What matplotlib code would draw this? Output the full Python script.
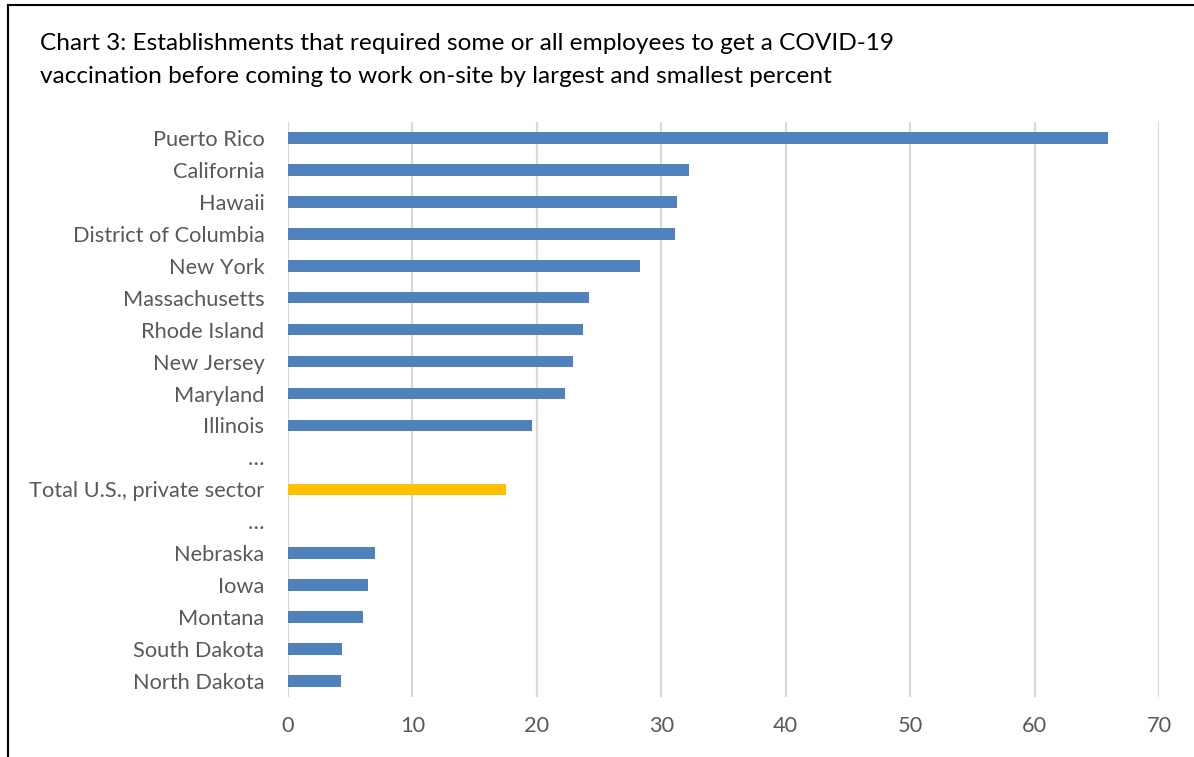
import matplotlib.pyplot as plt
from matplotlib.lines import Line2D

plt.rcParams['font.family'] = ['Lato', 'DejaVu Sans']

# valori in percentuale, dall'alto verso il basso
states = ["Puerto Rico", "California", "Hawaii", "District of Columbia", "New York",
          "Massachusetts", "Rhode Island", "New Jersey", "Maryland", "Illinois",
          "…", "Total U.S., private sector", "…",
          "Nebraska", "Iowa", "Montana", "South Dakota", "North Dakota"]
values = [65.9, 32.2, 31.3, 31.1, 28.3,
          24.2, 23.7, 22.9, 22.3, 19.6,
          0, 17.5, 0,
          7.0, 6.45, 6.05, 4.35, 4.25]
xticks = [0, 10, 20, 30, 40, 50, 60, 70]

blue = "#4F81BD"
gold = "#FFC000"
colors = [gold if s.startswith("Total") else blue for s in states]

fig = plt.figure(figsize=(11.94, 7.57), dpi=100)
ax = fig.add_axes([0.2412, 0.0793, 0.7295, 0.7595])

pos = list(range(len(states)))
ax.barh(pos, values, height=0.36, color=colors, zorder=3)
ax.set_ylim(len(states) - 0.5, -0.5)
ax.set_yticks(pos)
ax.set_yticklabels(states)
ax.set_xlim(0, 70)
ax.set_xticks(xticks)

ax.grid(axis='x', color='#D9D9D9', linewidth=1.6, zorder=0)
for s in ax.spines.values():
    s.set_visible(False)
ax.tick_params(axis='both', length=0, labelsize=15.7, labelcolor='#595959')
ax.tick_params(axis='x', pad=14)
ax.tick_params(axis='y', pad=17)

fig.text(0.0335, 1 - 33 / 757,
         "Chart 3: Establishments that required some or all employees to get a COVID-19\n"
         "vaccination before coming to work on-site by largest and smallest percent",
         fontsize=17.6, va='top', ha='left', color='black', linespacing=1.72)

# cornice (solo lati superiore e sinistro)
fig.add_artist(Line2D([8 / 1194, 1], [1 - 5 / 757, 1 - 5 / 757], color='black', lw=1.5,
                      transform=fig.transFigure))
fig.add_artist(Line2D([8 / 1194, 8 / 1194], [0, 1 - 5 / 757], color='black', lw=1.5,
                      transform=fig.transFigure))

fig.savefig("out.png", dpi=100)
